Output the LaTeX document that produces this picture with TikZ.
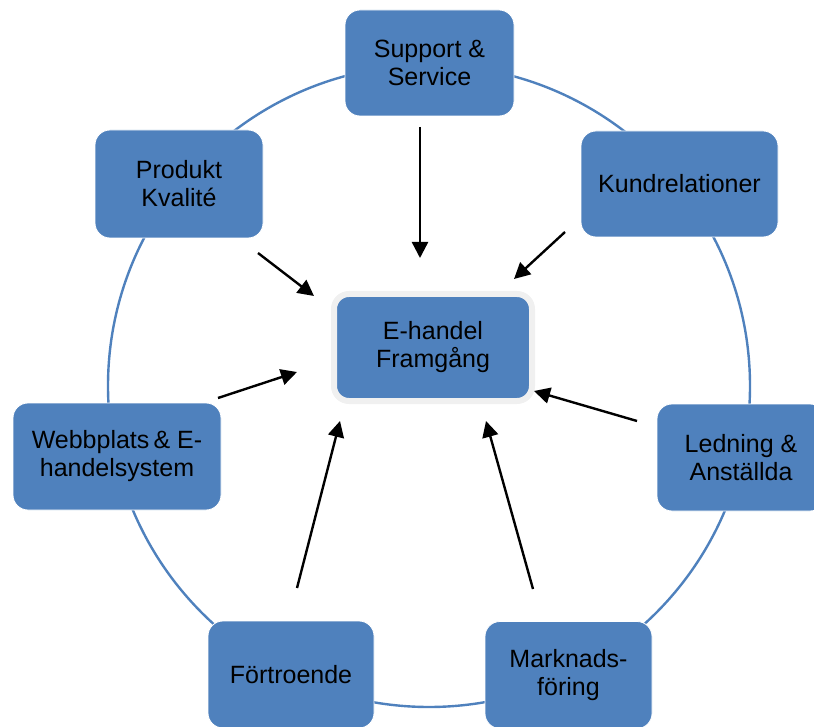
\documentclass[tikz,border=0pt]{standalone}
\usepackage{fontspec}
\setmainfont{Liberation Sans}
\usetikzlibrary{arrows.meta}
\definecolor{boxblue}{RGB}{79,129,189}
\definecolor{halo}{RGB}{240,240,240}

\begin{document}
\begin{tikzpicture}[x=1pt,y=-1pt,
  factor/.style={rectangle, rounded corners=15pt, fill=boxblue, draw=white,
    line width=0.8pt, align=center, inner sep=0pt,
    font=\fontsize{25}{28}\selectfont},
  goal/.style={factor, draw=halo, line width=6pt},
  ring/.style={boxblue, line width=2.4pt},
  pull/.style={-{Triangle[length=16pt,width=16pt]}, line width=2.4pt}]

%---------------------------------------
% Frame
%---------------------------------------
\useasboundingbox (0,0) rectangle (814,727);
\clip (0,0) rectangle (814,727);

% Ring behind the boxes
\def\cx{429}
\def\cy{386}
\def\rr{321}
\draw[ring] (\cx,\cy) circle (\rr);

%====================================================
% Factors round the ring
%====================================================
\node[factor, minimum width=169pt, minimum height=106pt] (sup)  at (429.5,63)  {Support \&\\Service};
\node[factor, minimum width=197pt, minimum height=106pt] (kund) at (679.5,184)  {Kundrelationer};
\node[factor, minimum width=168pt, minimum height=108pt] (prod) at (179,184)    {Produkt\\Kvalité};
\node[factor, minimum width=208pt, minimum height=107pt] (webb) at (117,456.5)  {Webbplats\,\& E-\\handelsystem};
\node[factor, minimum width=168pt, minimum height=107pt] (led)  at (741,457.5)  {Ledning \&\\Anställda};
\node[factor, minimum width=166pt, minimum height=107pt] (fort) at (291,674.5)  {Förtroende};
\node[factor, minimum width=167pt, minimum height=107pt] (mark) at (568.5,675)  {Marknads-\\föring};

% Centre
\node[goal, minimum width=198pt, minimum height=107pt] (mid) at (433,347.5) {E-handel\\Framgång};

%====================================================
% Arrows into the centre
%====================================================
\coordinate (sup-a)  at (420,127);  \coordinate (sup-b)  at (420,258);
\coordinate (kund-a) at (565,232);  \coordinate (kund-b) at (514,279);
\coordinate (prod-a) at (258,253);  \coordinate (prod-b) at (314,296);
\coordinate (webb-a) at (218,398);  \coordinate (webb-b) at (297,372);
\coordinate (led-a)  at (637,421);  \coordinate (led-b)  at (534,391);
\coordinate (fort-a) at (297,588);  \coordinate (fort-b) at (340,421);
\coordinate (mark-a) at (533,589);  \coordinate (mark-b) at (486,421);

\foreach \s in {sup,kund,prod,webb,led,fort,mark}
  \draw[pull] (\s-a) -- (\s-b);

\end{tikzpicture}
\end{document}
